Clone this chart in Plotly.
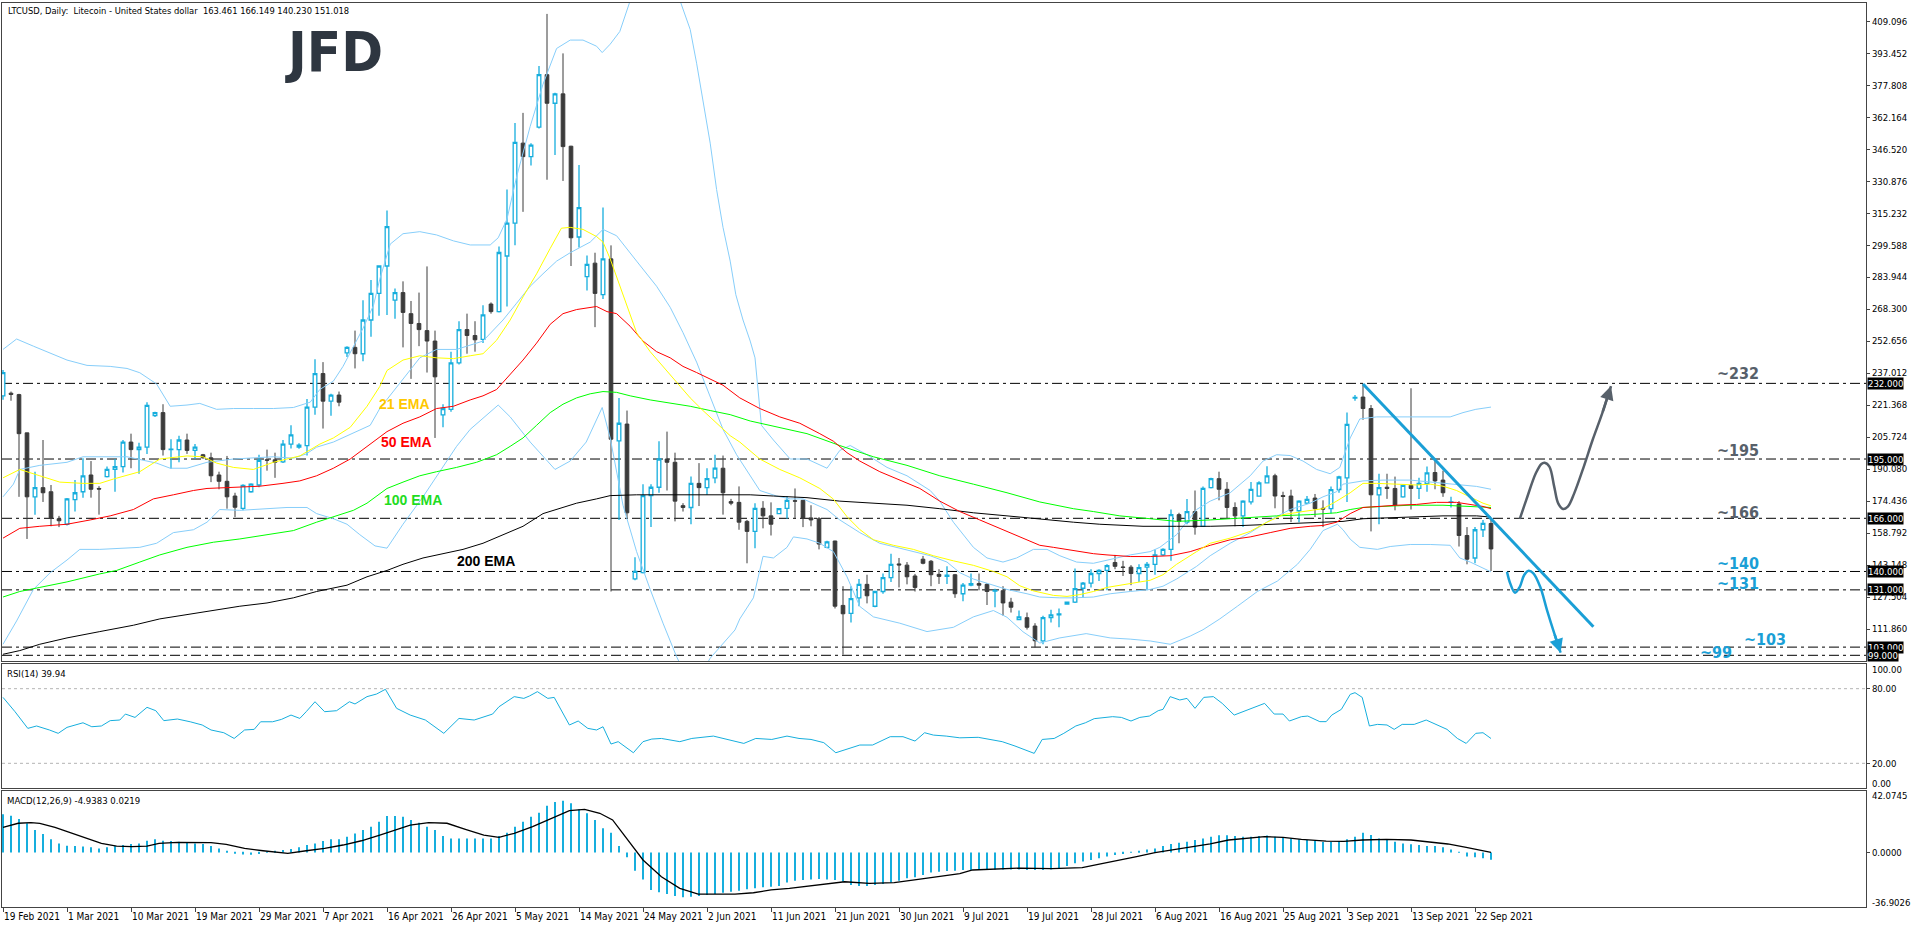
import plotly.graph_objects as go

W, H = 1916, 928
def px(x): return x / W
def py(y): return 1 - y / H

NARROW = "Liberation Sans Narrow, DejaVu Sans Condensed, Arial Narrow, sans-serif"

# ---------------- OHLC (bar index 0 = 19 Feb 2021) ----------------
opens = [225.9,227.2,226.5,207.8,176.5,181.0,179.0,165.8,163.1,175.1,179.0,187.2,180.6,186.4,189.9,191.3,203.3,199.6,200.8,216.2,
         217.7,199.6,199.6,204.3,199.2,197.1,195.6,187.2,184.1,176.9,170.9,179.0,182.3,194.6,194.6,193.6,202.3,200.8,201.6,220.4,
         236.8,223.3,226.3,246.9,249.6,246.5,263.0,276.0,289.4,272.7,276.4,266.1,261.3,257.8,252.7,216.6,219.3,242.0,258.3,255.4,
         253.5,270.8,267.1,294.3,310.4,349.5,342.9,357.3,383.0,369.0,373.6,348.0,303.6,284.2,290.8,275.4,292.9,203.9,212.1,136.4,
         139.4,177.1,181.2,195.0,193.4,172.2,171.3,183.1,181.0,185.8,190.5,174.2,173.8,164.5,159.6,170.9,167.2,168.3,170.9,174.6,
         174.8,166.2,165.8,151.8,154.9,123.4,119.5,127.1,133.7,123.0,130.2,137.0,143.7,143.1,137.8,146.0,145.0,138.6,137.6,138.4,
         129.1,133.3,134.1,133.7,130.4,130.6,125.0,116.4,117.4,113.3,106.1,117.4,118.8,124.0,125.0,131.8,134.3,139.0,140.5,144.4,
         142.2,142.1,139.0,142.1,143.5,148.1,150.8,167.8,164.1,169.3,162.1,181.0,185.4,180.2,171.3,167.2,174.0,176.9,183.3,186.8,
         177.1,176.9,169.7,173.4,175.9,170.9,170.7,180.0,185.8,224.8,225.3,219.7,177.5,181.2,180.6,176.5,182.1,180.6,183.1,188.4,
         184.7,173.8,173.0,157.6,146.6,160.4,163.461]
highs = [238.5,228.0,226.9,207.8,188.8,204.3,182.3,167.2,175.9,184.7,195.4,194.0,181.7,191.3,195.0,204.3,207.4,202.9,222.8,218.1,
         221.8,204.7,206.4,207.4,202.3,197.5,198.1,188.8,196.5,178.5,182.7,183.1,197.1,199.6,198.1,204.3,211.5,202.7,224.3,243.8,
         242.4,226.9,228.0,250.2,257.8,272.7,282.6,289.8,316.5,278.4,281.9,272.3,276.4,289.2,257.8,221.8,247.5,262.4,266.1,262.4,
         270.2,271.6,299.0,326.8,359.4,364.3,349.5,387.2,412.7,374.2,393.4,348.2,338.8,294.5,295.9,318.0,299.5,224.9,218.7,147.0,
         182.7,182.7,203.7,208.4,198.1,173.4,186.4,193.0,190.5,197.1,196.7,175.5,181.6,165.2,173.4,174.4,173.8,170.9,176.9,180.6,
         175.0,172.4,166.6,155.0,155.0,132.8,132.8,136.3,138.4,130.6,139.0,148.7,146.6,144.6,138.8,147.6,145.6,141.1,142.5,138.8,
         134.3,139.0,139.0,134.3,131.6,132.8,127.1,120.9,119.9,114.7,118.4,121.3,121.9,125.2,141.5,134.9,141.1,141.1,143.5,148.1,
         145.2,143.1,143.5,144.6,150.8,151.4,170.3,168.7,175.5,179.6,181.6,185.8,188.8,183.7,173.8,174.8,183.7,184.1,191.5,187.8,
         179.0,180.0,174.8,176.9,177.9,174.8,181.6,186.8,217.7,226.3,231.7,221.4,187.8,187.8,186.4,182.7,229.6,185.8,191.3,195.0,
         189.3,176.5,174.4,161.7,161.7,165.2,166.149]
lows = [224.0,223.5,176.5,155.9,167.8,174.0,162.1,161.7,162.5,169.3,176.1,176.1,167.8,186.0,179.0,188.4,190.5,187.8,197.5,215.6,
        196.7,190.3,193.4,197.5,195.0,195.2,183.7,180.2,170.7,166.6,169.9,178.5,181.2,189.3,185.8,193.0,200.2,200.0,196.7,216.6,
        209.9,216.2,220.8,244.9,239.3,242.8,254.8,265.1,265.5,263.6,249.6,234.2,250.2,237.3,205.3,210.5,218.1,241.2,246.5,247.5,
        251.7,266.1,266.7,269.6,299.5,315.9,338.6,356.7,331.6,343.7,331.0,289.4,298.4,277.4,259.5,273.3,130.2,165.2,165.8,135.7,
        139.0,161.7,178.5,179.6,164.5,169.3,163.1,172.0,177.5,183.1,167.8,172.4,160.4,144.0,151.4,161.1,157.6,168.0,165.8,166.2,
        161.7,162.1,150.8,151.4,121.9,99.3,115.1,123.0,124.4,122.5,129.1,134.9,132.2,133.7,130.2,143.5,132.8,133.9,133.9,127.1,
        125.4,132.8,130.8,123.6,122.5,118.4,119.9,116.2,111.6,102.8,104.4,115.1,112.7,123.8,124.6,127.1,132.2,135.3,130.8,141.1,
        137.8,133.3,134.9,130.8,138.4,147.6,145.2,153.8,163.1,158.0,161.7,180.6,174.8,165.8,162.1,161.7,172.8,176.5,183.1,170.9,
        167.8,164.1,164.1,173.0,166.6,161.7,168.3,178.5,174.0,223.5,214.2,159.6,163.1,175.5,169.9,176.1,170.3,175.5,179.0,180.2,
        176.5,171.3,152.2,143.5,144.0,156.9,140.230]
closes = [237.3,226.6,207.4,176.5,181.0,178.5,166.2,164.8,175.5,178.5,186.8,180.2,180.3,189.9,191.3,203.3,199.6,200.8,221.2,217.7,
          199.6,199.8,204.3,199.2,200.8,195.6,186.8,184.1,176.5,171.4,182.1,182.7,194.4,194.4,193.4,202.3,206.8,201.8,220.4,236.8,
          223.3,226.3,222.8,249.6,246.5,263.0,276.0,289.4,308.7,276.4,266.7,261.3,258.3,252.7,235.2,219.7,242.0,258.3,255.4,253.3,
          265.5,267.1,296.0,310.4,349.9,342.9,348.5,383.0,369.0,373.6,347.8,303.2,318.0,290.2,276.0,292.9,204.7,212.5,168.7,140.0,
          177.1,181.2,195.0,193.4,174.4,171.3,183.1,181.0,185.4,190.5,178.5,173.4,164.1,159.6,170.9,167.2,163.1,170.7,174.8,174.4,
          166.2,165.2,153.4,154.5,123.0,119.3,126.7,133.7,128.1,130.2,137.0,143.5,143.2,137.4,132.2,144.0,138.4,137.6,138.2,129.1,
          133.3,134.1,133.3,130.2,130.8,124.6,122.5,117.8,112.7,106.1,117.4,118.8,119.3,125.0,131.6,134.3,139.0,140.5,142.9,142.5,
          142.0,139.0,141.9,143.5,148.1,150.8,167.8,164.5,169.3,161.7,180.6,185.4,180.2,171.3,167.2,174.4,180.2,183.3,186.8,176.9,
          176.7,169.7,174.4,175.3,170.7,170.5,180.0,186.2,211.9,225.1,219.7,177.5,181.0,180.6,172.4,182.1,180.6,183.1,188.2,184.3,
          178.5,174.0,157.6,146.0,160.4,163.5,151.018]
bar_idx = list(range(len(opens)))

# ---------------- axis labels ----------------
date_tick_bars = [0, 8, 16, 24, 32, 40, 48, 56, 64, 72, 80, 88, 96, 104, 112, 120, 128, 136, 144, 152, 160, 168, 176, 184]
date_tick_labels = ["19 Feb 2021", "1 Mar 2021", "10 Mar 2021", "19 Mar 2021", "29 Mar 2021", "7 Apr 2021", "16 Apr 2021",
                    "26 Apr 2021", "5 May 2021", "14 May 2021", "24 May 2021", "2 Jun 2021", "11 Jun 2021", "21 Jun 2021",
                    "30 Jun 2021", "9 Jul 2021", "19 Jul 2021", "28 Jul 2021", "6 Aug 2021", "16 Aug 2021", "25 Aug 2021",
                    "3 Sep 2021", "13 Sep 2021", "22 Sep 2021"]
price_ticks = [409.096, 393.452, 377.808, 362.164, 346.520, 330.876, 315.232, 299.588, 283.944, 268.300,
               252.656, 237.012, 221.368, 205.724, 190.080, 174.436, 158.792, 143.148, 127.504, 111.860]
level_prices = [232, 195, 166, 140, 131, 103, 99]
level_texts = ["~232", "~195", "~166", "~140", "~131", "~103", "~99"]

# ---------------- indicators ----------------
ema21_x = [0,2.1,4.6,7.1,10,12.1,13.8,17.1,19.6,23,25,26.7,28.8,31.3,33.8,37.1,39.6,41.3,43.4,45.5,47.1,48,50,52.1,54.2,56.3,
           58.4,60,61.7,63.4,65,66.7,68.4,69.8,70.9,72.5,74.2,75,75.9,77.5,79.2,80.9,82.5,84.2,85.9,87.5,89.2,90.9,92.1,93.4,
           94.6,97.1,99.6,102.1,103.8,105.5,107.1,108.8,111.3,113.8,116.3,118.8,121.3,123.8,125.5,127.1,128.8,131.3,133,134.6,
           136.3,138,139.6,140.9,143.4,145,146.7,149.2,150.9,153.4,155.9,158,160,162.5,165,166.7,168.4,170,171.7,174.2,176.7,
           178.4,180,181.7,183.4,185,186]
ema21_y = [185.8,189.9,186.8,183.7,183.1,183.1,185.2,188.8,195,196.5,196.1,193,190.9,189.9,193.4,196.5,202.3,205.3,210.5,220.8,
           230.5,238.3,243.4,245.5,244.5,244.1,245.5,246.5,253.1,263,274.3,285.6,298,307.9,308.3,307.3,303.8,301.1,292.9,275.4,
           256.8,247.5,240.3,232.1,224.9,218.7,212.5,206.4,203.3,199.2,195,189.9,185.8,180.6,175.4,166.8,160.5,155.5,152.8,150.8,
           147.7,145.2,143,140,137.4,133,130.5,128.3,127.8,128.7,130.2,132.2,133.3,134.3,135.7,138.4,143.5,149.7,153.8,156.3,
           159.6,164.1,167.8,169.3,170.7,174.4,178.5,183.1,183.1,182.7,182.3,182.7,181.7,179.6,176.5,173.4,172.1]
ema50_x = [0,2.1,4.6,8,10.9,13.4,16.3,18.8,21.3,23.8,25.5,28.8,32.1,35,37.1,39.2,41.3,43.4,45.5,48,50,52.1,54.2,56.3,58.4,60,
           61.7,63.4,65,66.7,68.4,70,71.7,74.2,75.5,76.7,78.4,80,81.7,83.4,85,86.7,88.4,90,92.1,94.6,97.1,99.6,102.1,103.8,105.5,
           107.1,109.6,112.1,114.6,117.1,119.6,122.1,124.6,127.1,129.6,131.3,133,134.6,136.3,138,140.9,143.4,145.9,148.4,150.9,
           153.4,155.9,158.4,160.9,163.4,165,166.7,168.4,170,171.7,174.2,176.7,179.2,181.7,183.4,185,186]
ema50_y = [156.3,161.1,162.1,163.1,165.2,167.2,170.3,175.5,177.5,179.6,180.6,181,181.7,183.1,184.3,186.8,190.5,195,201.2,208.4,
           212.5,215.6,219.7,220.8,223.9,225.9,229,236.2,243.4,251.7,260.9,266.1,268.1,269.6,267.1,266.1,259.9,252.7,247.5,244.5,
           240.3,237.3,234.2,231.1,224.9,219.7,215.6,212.5,207.4,203.7,198.1,194,188.8,184.7,180.6,174.4,169.3,165.2,161.1,156.9,
           152.8,151.8,150.8,149.7,148.7,148.1,147.3,147.3,147.7,149.7,152.8,155.5,156.9,159,161.1,162.1,162.5,164.1,168.3,171.3,
           171.8,172.4,172.8,173.8,173.8,172.8,171.8,170.7]
ema100_x = [0,2.1,4.6,8,12.1,14.2,17.1,19.6,23,26.3,29.6,33,36.3,39.2,41.3,43.8,45.5,48,50,52.1,54.2,56.7,59.2,61.7,63.4,65,66.7,
            68.4,70,71.7,73.4,75,76.7,78.4,80.9,83.4,85.9,88.4,90.9,93.4,94.6,97.1,100.5,104.6,108.8,113,117.1,121.3,125.5,129.6,
            133.8,136.3,139.6,143.4,146.7,150.9,155,159.2,163.4,166.7,168.4,170,172.5,175.9,180,182.5,186]
ema100_y = [127.5,130.2,132.2,134.9,138.8,140.5,144.6,148.1,151.8,154.3,155.9,158,160,164.1,166.6,169.9,173.4,180.6,183.7,186.8,
            188.8,190.9,193.4,197.1,201.2,205.3,211.5,217.7,221.8,224.9,226.9,228,227.6,225.9,223.9,222.2,220.8,218.7,216.7,213.6,
            212.5,210.5,207.4,201.6,196.1,191.9,186.8,182.7,178.5,174,170.7,169.3,167.2,165.8,164.5,165.2,166.2,167.2,167.8,168.7,
            170.3,171.3,171.8,172.4,172.4,171.8,171.3]
ema200_x = [0,2.1,4.6,8,12.1,16.3,19.6,23,26.3,29.6,33,36.3,39.2,43,45.5,48,50,52.5,55,57.5,60,62.5,65,67.5,69.2,71.7,74.2,75.9,
            79.2,87.5,93.4,96.3,100.5,104.6,108.8,113,117.1,121.3,125.5,129.6,133.8,137.1,142.5,146.7,150.9,155,159.2,163.4,167.5,
            170,172.5,175.9,180,184.2,186]
ema200_y = [99.5,101.3,104.4,107.5,110.6,113.7,116.8,118.8,120.9,123,124.6,127.1,130.2,133.3,137.4,140.5,143.5,146.6,148.7,150.8,
            153.8,158,162.1,168.3,170.3,173.4,175.5,177.1,177.5,177.5,177.5,176.9,176.1,174.4,173.4,172.4,170.7,168.7,167.2,165.6,
            164.1,163.1,162.1,162.1,162.1,162.5,163.1,163.7,164.5,165.8,166.2,166.6,167.2,167.2,166.6]
bb_up_x = [0,1.7,3.8,8,10.5,13.4,15.5,17.1,19.2,20.9,23,24.6,26.7,28.8,31.3,33.8,36.3,38.4,39.6,41.3,42.5,43.8,45,46.3,47.1,48.4,
           50,52.1,54.2,56.3,58.4,60.9,61.9,63,64.2,65.9,67.5,69.2,70.9,72.5,74.2,74.9,75.9,77.1,78.2,79.5,81.5,83.5,84.6,85.9,
           86.7,87.5,88.4,89.2,90,90.9,91.6,92.5,93.4,94,94.8,96.3,98.4,100.5,103,104.6,105.9,108,110.5,113,115.9,117.1,118.8,
           121.3,123,125,126.7,128.8,130.5,132.1,134.2,136.3,138,140.9,143.4,144.6,146.7,149.2,150.9,153.4,155.9,157.5,159.2,
           160.9,162.5,164.2,165.9,167.1,168.4,169.6,171.7,175.9,180.9,182.5,184.1,186]
bb_up_y = [248.6,253.7,250.2,243.4,240.8,240.3,239.3,237.2,231.7,220.8,221.4,222.2,219.3,219.7,219.7,219.7,220.2,222.8,229,233.1,
           240.3,249.6,258.9,270,283,300.1,305.2,306.2,304.6,301.7,299.7,299.7,303.2,312.4,333,357.7,378.3,395.8,399.9,399.9,396.9,
           393.8,397.9,404.1,416.4,432,440,430,419.5,405.1,388.6,370.1,349.5,326.8,308.3,291.8,275.4,263,252.7,244.5,211.5,204.3,
           195,195,190.5,199.2,201.6,197.1,190.9,186.8,179.6,174.4,164.1,151.8,146.6,144.6,146.6,150.8,150.8,147.7,144.6,144,145.6,
           148.1,149.7,151.8,158,170.3,174.4,178.5,186.8,194,197.1,196.7,194,189.9,187.8,190.9,205.3,214.6,215.6,215.6,215.6,217.7,
           219.3,220.4]
bb_mid_x = [0,1.3,2.1,4.6,8,10,15.5,17.1,19.2,20.9,23,25.5,28.8,33.8,36.3,37.9,39.2,41.3,43,45.9,47.1,50,52.1,54.2,56.7,60,62.5,
            64.2,65.9,67.5,69.2,70.9,73.4,75,76.7,79.2,81.7,83.4,85,86.7,88.4,90,91.7,93.4,94.6,96.7,98.4,100,103,104.6,107.1,
            109.6,111.7,113.8,115.9,118,119.6,121.3,123.8,125.5,128,129.6,132.1,133.8,136.3,138.4,140.9,143.4,145,146.7,149.2,
            150.9,153.4,155.9,158.4,160.9,163.4,165,166.7,167.5,170,172.5,175.9,180,184.2,186]
bb_mid_y = [176.5,182.7,189.9,191.9,193.4,196.1,196.1,194.6,193,190.5,190.5,193.4,195,196.1,195.4,197.5,200.8,203.3,206.4,211.5,
            219.7,234.2,244.5,248.6,248.6,252.7,263,271.2,279.5,285.6,291.8,295.9,301.1,307.3,304.2,291.8,279.5,269.2,256.8,242.4,
            225.9,209.5,197.1,186.8,179.6,176.9,175.5,175.5,170.3,165.2,159,153.8,151.8,149.7,147.7,144.6,139.4,136.3,133.3,131.2,
            129.1,127.5,127.1,127.1,127.5,129.1,130.2,131.2,132.8,136.3,142.5,147.7,153.8,159,165.2,170.3,173.4,176.5,179,182.7,
            184.3,184.7,184.7,183.1,181.6,180.2]
bb_low_x = [0,1.7,3.8,5.9,8,9.6,12.1,17.1,19.2,21.3,23.8,25.5,27.1,29.6,35.5,38,39.2,41.3,43,44.6,46.5,48,50,52.5,56.7,58.4,61.9,
            63.4,65.9,69,70.9,72.9,74.9,75.9,77.5,79.2,80.9,82.5,84.2,85.5,87,88.4,91.5,92.1,93.8,95,96.3,98,98.8,100.5,102.1,
            103.8,105.5,107.1,108.8,112.1,115.5,118.8,121.3,123.8,125.5,127.5,129.6,132.1,135.4,138.4,140.9,143.4,145.9,148.4,
            150,152.1,154.3,156.8,159.3,161.8,163.4,165,166.8,167.5,168.4,169.6,171.8,173.4,175.9,178.4,180.9,182.1,183.4,186]
bb_low_y = [104.4,115.8,131.2,139.4,145.6,150.8,150.8,151.8,153.8,159,160.4,164.1,170.3,169.9,171.3,171.3,168.3,165.8,163.1,158,
            152.5,151.4,163.1,176.5,201.2,209.5,221.4,215.6,203.3,189.9,194,203.3,220.2,205.3,172.4,149.7,131.2,114.7,98.3,88,88,
            97.6,111.4,116.8,127.1,147.4,146.6,151.8,156.9,155.9,153.8,149.7,137.4,122.9,117.8,114.7,110.6,112.7,117.8,120.9,117.6,
            110.5,105,107.5,109.6,107.5,106.9,106,104.4,108.4,111.5,116.8,123,130.2,135.3,143.5,150.8,160,163.1,160.4,155.8,151.8,
            150.8,152.2,153.2,153.2,152.8,146.6,144.6,139.8]

rsi_x = [0,1.5,3.1,4.2,5.8,6.9,8,10,11.1,12.3,13.4,14.6,15.3,16.5,18,19.1,20.1,21.8,23.4,24.9,26,27.6,28.9,30.2,31.4,32.2,33.7,
         34.8,36,37.1,37.9,39,40.2,41.7,43.3,44,45.5,46.7,47.8,49.2,50.9,52.8,55.1,57,58.9,60.5,61.2,62,63.9,65.1,65.8,66.8,68.1,
         68.9,70.8,71.9,73.1,74.2,75,76,76.9,78.8,80,81.1,82.3,84.6,86.1,88.8,90.7,92.6,94.1,96.1,98,99.5,101,102.6,104.1,105.2,
         107.1,108.7,110.9,112.5,114,115.2,116.3,117.9,119.6,121.9,123.4,124.9,126.5,127.2,128.9,129.9,131.4,132.6,134.1,135.3,
         136.4,138.7,139.8,141,142.1,143.3,144.4,145,145.9,147.1,148,149,150.1,151.3,152.4,153.9,155.5,156.6,157.7,158.9,160,
         160.8,162.3,163.1,164.6,165.4,166.1,167.3,168.4,169,169.9,170.8,171.8,173,173.9,174.9,176.4,177.9,179.1,180.5,181.8,
         182.9,184.1,185,186]
rsi_y = [73,61.5,48.1,50,46.8,44.1,48.9,52.6,49.4,50,54.3,54.8,59.6,56.9,65,62.3,54.3,55.6,53.4,50.8,46.8,44.6,40,46.8,47.3,53.4,
         53.4,55.3,58.8,56.1,61.5,69.5,61.5,62.3,69.5,67.7,73.6,75.7,79.5,64.2,58.8,54.8,44.1,56.1,54.8,58,59.6,65.5,73.6,72.2,
         74.1,77.6,72.2,73,50.8,54,48.1,46.8,49.4,35.5,37.4,28.5,37.4,39.5,40,37.4,40,41.9,39.2,36,40,39.2,41.9,40,39.2,36.6,28.5,
         30.7,34.7,34.7,41.4,41.4,37.9,44.6,42.7,41.9,40.5,40.9,39.2,37.4,33.9,32,28,39.2,40,44.1,50,52.6,55.9,57.5,56.9,54,56.9,
         58,62.3,63.4,73.6,70.9,72.2,64.2,73,73.6,68.2,58.8,62.8,65.5,68.2,59.6,59.6,54,57.5,58,53.5,53.5,58.8,63.4,75.4,76.8,73,
         50,51.3,50.8,47.3,51.3,51.3,54.8,51.6,47.3,40,36,44.1,44.6,39.94]

macd_hist = [26.0,25.1,22.8,19.9,15.3,12.6,9.0,6.2,4.6,4.4,4.0,3.5,2.8,3.5,4.4,5.1,5.8,6.2,8.0,9.0,
             8.0,7.8,7.4,6.7,6.2,5.8,4.4,2.8,1.2,-0.6,-1.3,-1.5,-1.0,-0.1,1.2,1.7,2.4,3.5,5.1,6.2,
             7.8,9.0,9.0,10.8,13.0,15.3,17.6,21.0,24.9,24.9,24.4,22.2,20.3,17.6,15.3,11.2,9.6,9.6,9.6,9.6,
             9.6,9.6,11.2,13.5,17.6,21.0,24.4,27.1,31.9,34.4,35.3,33.5,29.4,26.7,22.2,16.5,13.5,4.4,-3.3,-12.4,
             -18.3,-25.5,-27.1,-28.3,-29.6,-30.5,-30.1,-29.6,-28.9,-28.3,-27.4,-26.7,-26.0,-25.1,-24.4,-23.7,-23.3,-22.8,-20.5,-19.2,
             -18.7,-18.3,-18.0,-18.3,-18.7,-19.9,-22.1,-22.8,-22.8,-22.1,-21.5,-20.5,-19.2,-17.6,-16.9,-15.3,-13.7,-13.1,-12.6,-12.4,
             -11.9,-11.9,-11.5,-11.5,-11.5,-11.5,-11.5,-11.5,-11.9,-11.9,-11.9,-11.5,-10.8,-9.2,-7.4,-6.2,-5.1,-4.0,-2.8,-1.7,
             -1.0,0.3,1.2,2.1,2.8,4.4,5.8,6.7,7.4,8.5,9.6,10.8,11.7,11.7,11.2,10.8,10.8,11.2,11.5,10.8,
             10.3,9.6,9.0,8.5,7.8,7.1,7.1,7.8,9.0,10.8,13.5,11.9,9.6,9.0,7.4,6.2,5.6,5.1,4.4,4.4,
             3.5,2.1,0.3,-2.8,-3.3,-4.0,-4.9383]
macd_sig_x = [0,1.9,3.5,4.6,6.5,8.4,10.3,12.3,14.2,16.1,18,19.5,21.8,24.1,26,27.9,30.2,32.5,35.6,37.9,40.2,42.5,44.8,47.1,49,
              50.9,53.2,55.5,57.8,60.1,62,63.9,66.2,68.5,70.8,72.7,74.6,76.2,78.1,80,82.3,84.6,86.9,89.2,91.5,93.8,96,98.3,100.6,
              102.9,105.2,108.3,111.4,114.4,117.5,119.6,121.2,124.2,127.2,131.1,134.9,137.2,139.4,141.7,144,146.3,148.6,150.9,
              153.2,155.4,157.7,160,162.3,165.4,167.6,169.9,172.9,176,178.3,180.6,182.9,185.2,186]
macd_sig_y = [17.1,19.9,20.3,19.9,17.1,13.5,9.6,6.2,4.4,4.0,4.4,6.2,6.9,6.9,6.7,5.5,2.8,1.2,-0.6,1.2,2.8,5.1,8.0,11.9,15.3,18.7,
              20.3,19.9,15.8,11.9,10.3,13.1,17.6,23.3,28.5,29.4,26.7,22.2,8.5,-5.1,-16.5,-24.4,-28.3,-28.3,-28.3,-27.4,-25.5,-24.4,
              -22.8,-21.0,-19.9,-21.0,-20.5,-18.3,-16.0,-14.4,-11.9,-11.5,-10.6,-11.0,-10.3,-7.8,-5.6,-2.8,-0.1,1.7,3.5,5.8,8.5,
              9.4,10.8,10.3,9.0,7.8,7.6,8.5,9.0,8.5,7.4,5.8,3.5,1.2,0.0219]

# scenario drawings
trend_x = [170, 198.8]
trend_y = [231.7, 113.0]
bull_x = [189.6, 190.4, 191.6, 192.3, 192.7, 193.3, 193.9, 194.4, 195.0, 195.6, 196.4, 197.6, 198.7, 199.9, 201.0]
bull_y = [165.7, 174.9, 188.0, 192.6, 193.2, 191.3, 181.5, 173.3, 170.6, 171.7, 178.2, 191.3, 204.3, 217.3, 230.7]
bear_x = [188.0, 188.4, 189.0, 189.6, 190.15, 190.7, 191.3, 192.15, 193.0, 193.9, 194.7]
bear_y = [139.9, 134.2, 129.6, 132.5, 138.3, 140.4, 139.1, 132.5, 121.1, 109.8, 100.3]

CYAN = "#16aedd"
DARK = "#3b3b3b"
BB = "#87cefa"
GRAY = "#57606a"
BLUE = "#1a9fd6"

fig = go.Figure()
for xs, ys in [(bb_up_x, bb_up_y), (bb_mid_x, bb_mid_y), (bb_low_x, bb_low_y)]:
    fig.add_trace(go.Scatter(x=xs, y=ys, mode="lines", line=dict(color=BB, width=1), hoverinfo="skip", xaxis="x", yaxis="y"))
for xs, ys, c in [(ema200_x, ema200_y, "#000000"), (ema100_x, ema100_y, "#00ff00"),
                  (ema50_x, ema50_y, "#ff0000"), (ema21_x, ema21_y, "#ffff00")]:
    fig.add_trace(go.Scatter(x=xs, y=ys, mode="lines", line=dict(color=c, width=1), hoverinfo="skip", xaxis="x", yaxis="y"))

fig.add_trace(go.Candlestick(x=bar_idx, open=opens, high=highs, low=lows, close=closes,
                             increasing=dict(line=dict(color=CYAN, width=1.3), fillcolor="white"),
                             decreasing=dict(line=dict(color=DARK, width=1), fillcolor=DARK),
                             whiskerwidth=0, hoverinfo="skip", xaxis="x", yaxis="y"))

fig.add_trace(go.Scatter(x=trend_x, y=trend_y, mode="lines", line=dict(color=BLUE, width=3), hoverinfo="skip"))
fig.add_trace(go.Scatter(x=bull_x, y=bull_y, mode="lines", line=dict(color=GRAY, width=2.5, shape="spline"), hoverinfo="skip"))
fig.add_trace(go.Scatter(x=bear_x, y=bear_y, mode="lines", line=dict(color=BLUE, width=2.5, shape="spline"), hoverinfo="skip"))

# RSI
fig.add_trace(go.Scatter(x=rsi_x, y=rsi_y, mode="lines", line=dict(color=CYAN, width=1), hoverinfo="skip", xaxis="x2", yaxis="y2"))
# MACD
fig.add_trace(go.Bar(x=bar_idx, y=macd_hist, width=0.16, marker=dict(color=CYAN, line=dict(width=0)), hoverinfo="skip",
                     xaxis="x3", yaxis="y3"))
fig.add_trace(go.Scatter(x=macd_sig_x, y=macd_sig_y, mode="lines", line=dict(color="#000000", width=1.3), hoverinfo="skip",
                         xaxis="x3", yaxis="y3"))

XR = [-0.125, 232.875]
XD = [px(2), px(1866)]
LINE = "#444444"
ytickf = dict(family=NARROW, size=9.5, color="#000000")
xtickf = dict(family=NARROW, size=10, color="#000000")

shapes = []
for lv in level_prices:
    shapes.append(dict(type="line", xref="paper", yref="y", x0=XD[0], x1=XD[1], y0=lv, y1=lv,
                       line=dict(color="#000000", width=1, dash="10px,4px,3px,4px"), layer="below"))
for lv in [80, 20]:
    shapes.append(dict(type="line", xref="paper", yref="y2", x0=XD[0], x1=XD[1], y0=lv, y1=lv,
                       line=dict(color="#b4b4b4", width=1, dash="3px,3px"), layer="below"))

ann = []
ann.append(dict(text="LTCUSD, Daily:  Litecoin - United States dollar  163.461 166.149 140.230 151.018",
                x=px(6), y=py(10), xref="paper", yref="paper", xanchor="left", yanchor="middle", showarrow=False,
                font=dict(family=NARROW, size=9.3, color="#000000")))
ann.append(dict(text="<b>JFD</b>", x=px(334), y=py(52), xref="paper", yref="paper", xanchor="center", yanchor="middle",
                showarrow=False, font=dict(family=NARROW, size=56, color="#2e3640")))
for t, c, cx, cy in [("21 EMA", "#ffc800", 404, 404), ("50 EMA", "#ff0000", 406, 442),
                     ("100 EMA", "#1fdc1f", 413, 500), ("200 EMA", "#000000", 486, 561)]:
    ann.append(dict(text="<b>%s</b>" % t, x=px(cx), y=py(cy), xref="paper", yref="paper", showarrow=False,
                    xanchor="center", yanchor="middle", font=dict(family="Liberation Sans, Arial, sans-serif", size=14, color=c)))
lvl_pos = [(1738, 374, GRAY), (1738, 451, GRAY), (1738, 512, GRAY), (1738, 563, BLUE), (1738, 583, BLUE),
           (1765, 639, BLUE), (1716, 652, BLUE)]
for t, (cx, cy, c) in zip(level_texts, lvl_pos):
    ann.append(dict(text="<b>%s</b>" % t, x=px(cx), y=py(cy), xref="paper", yref="paper", showarrow=False,
                    xanchor="center", yanchor="middle", font=dict(family=NARROW, size=16, color=c)))
for lv in level_prices:
    ann.append(dict(text="%.3f" % lv, x=px(1867), y=lv, xref="paper", yref="y", xanchor="left", yanchor="middle",
                    showarrow=False, bgcolor="#000000", borderpad=0, font=dict(family=NARROW, size=9.5, color="#ffffff")))
ann.append(dict(text="RSI(14) 39.94", x=px(5), y=py(673), xref="paper", yref="paper", xanchor="left", yanchor="middle",
                showarrow=False, font=dict(family=NARROW, size=9.5, color="#000000")))
ann.append(dict(text="MACD(12,26,9) -4.9383 0.0219", x=px(5), y=py(800), xref="paper", yref="paper", xanchor="left",
                yanchor="middle", showarrow=False, font=dict(family=NARROW, size=9.5, color="#000000")))
for t, yy in [("100.00", 669), ("0.00", 783), ("42.0745", 795.5), ("-36.9026", 902)]:
    ann.append(dict(text=t, x=px(1870), y=py(yy), xref="paper", yref="paper", xanchor="left", yanchor="middle",
                    showarrow=False, font=ytickf))
# arrow heads
ann.append(dict(x=bull_x[-1], y=bull_y[-1], ax=bull_x[-2], ay=bull_y[-2], xref="x", yref="y", axref="x", ayref="y",
                text="", showarrow=True, arrowhead=2, arrowsize=1.1, arrowwidth=2.5, arrowcolor=GRAY))
ann.append(dict(x=bear_x[-1], y=bear_y[-1], ax=bear_x[-2], ay=bear_y[-2], xref="x", yref="y", axref="x", ayref="y",
                text="", showarrow=True, arrowhead=2, arrowsize=1.1, arrowwidth=2.5, arrowcolor=BLUE))

common_x = dict(range=XR, domain=XD, showgrid=False, zeroline=False, showline=True, mirror=True, linecolor=LINE, linewidth=1)
common_y = dict(showgrid=False, zeroline=False, showline=True, mirror=True, linecolor=LINE, linewidth=1, side="right",
                ticks="outside", ticklen=3, tickcolor=LINE, tickfont=ytickf)

fig.update_layout(
    width=W, height=H, margin=dict(l=0, r=0, t=0, b=0), autosize=False,
    paper_bgcolor="white", plot_bgcolor="white", showlegend=False, boxgap=0.35,
    xaxis=dict(**common_x, anchor="y", showticklabels=False, ticks="", rangeslider=dict(visible=False)),
    xaxis2=dict(**common_x, anchor="y2", matches="x", showticklabels=False, ticks=""),
    xaxis3=dict(**common_x, anchor="y3", matches="x", tickmode="array", tickvals=date_tick_bars, ticktext=date_tick_labels,
                ticks="outside", ticklen=4, tickcolor=LINE, ticklabelposition="outside right", tickangle=0,
                tickfont=xtickf),
    yaxis=dict(**common_y, anchor="x", domain=[py(661), py(2.7)], range=[96.21, 418.19],
               tickmode="array", tickvals=price_ticks, ticktext=["%.3f" % v for v in price_ticks]),
    yaxis2=dict(**common_y, anchor="x2", domain=[py(788.2), py(663.8)], range=[0, 100],
                tickmode="array", tickvals=[80, 20], ticktext=["80.00", "20.00"]),
    yaxis3=dict(**common_y, anchor="x3", domain=[py(906.7), py(790.7)], range=[-36.9026, 42.0745],
                tickmode="array", tickvals=[0], ticktext=["0.0000"]),
    shapes=shapes, annotations=ann,
)

fig.write_html("out.html")
